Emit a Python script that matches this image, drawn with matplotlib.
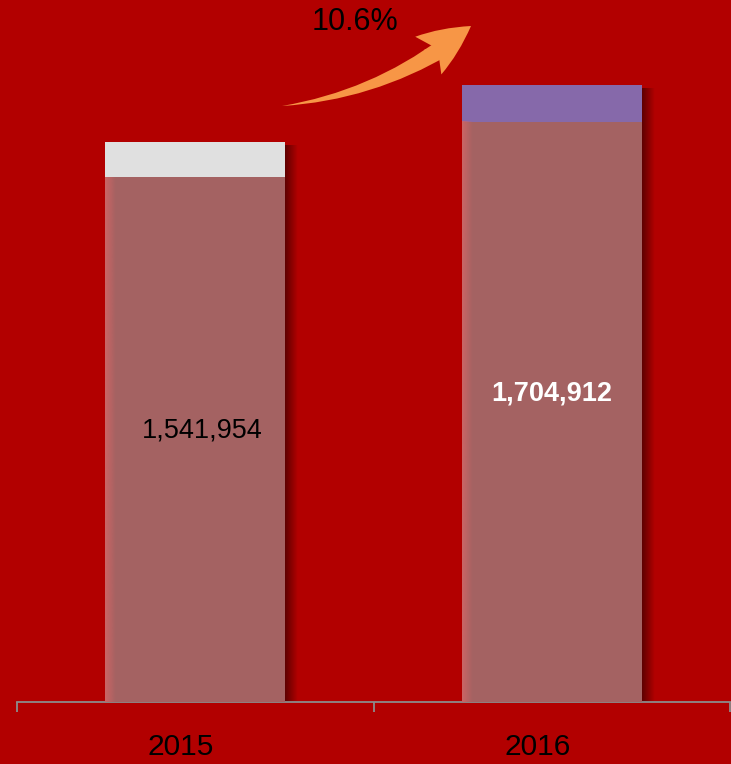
import numpy as np
import matplotlib
matplotlib.use('Agg')
import matplotlib.pyplot as plt

plt.rcParams['font.family'] = ['Liberation Sans', 'DejaVu Sans']

years = ['2015', '2016']
totals = [1541954, 1704912]
caps = [103000, 107000]
cap_colors = ['#E0E0E0', '#8669AA']
growth = '10.6%'

bg = '#B20000'
bar_color = '#A46262'
arrow_color = '#F79646'

fig = plt.figure(figsize=(7.31, 7.64), dpi=100, facecolor=bg)
ax = fig.add_axes([17 / 731, 62 / 764, 713 / 731, 702 / 764], facecolor=bg)

x = np.arange(len(years))
width = 0.505
main_bars = ax.bar(x, totals, width=width, color=bar_color, zorder=3)
ax.bar(x, caps, width=width, bottom=totals, color=cap_colors, zorder=3)

ymax = totals[0] * 702 / 525
ax.set_xlim(-0.5, 1.5)
ax.set_ylim(0, ymax)

# soft highlight on the left edge and a shadow on the right of each bar
for b, c in zip(main_bars, caps):
    bx, bw, bh = b.get_x(), b.get_width(), b.get_height()
    hl = np.zeros((1, 32, 4))
    hl[..., :3] = matplotlib.colors.to_rgb('#D06666')
    hl[..., 3] = np.linspace(0.9, 0.0, 32)
    ax.imshow(hl, extent=[bx, bx + 0.03, 0, bh], aspect='auto', zorder=4)
    sh = np.zeros((1, 32, 4))
    sh[..., :3] = matplotlib.colors.to_rgb('#3A0000')
    sh[..., 3] = np.linspace(0.7, 0.0, 32)
    ax.imshow(sh, extent=[bx + bw, bx + bw + 0.035, 0, bh + c * 0.9],
              aspect='auto', zorder=2)

ax.text(0.02, totals[0] * 0.518, '{:,}'.format(totals[0]), ha='center', va='center',
        fontsize=19.5, color='black', zorder=5)
ax.text(1.0, totals[1] * 0.532, '{:,}'.format(totals[1]), ha='center', va='center',
        fontsize=19.5, color='white', fontweight='bold', zorder=5)

# axis styling
for s in ['top', 'right', 'left']:
    ax.spines[s].set_visible(False)
ax.spines['bottom'].set_color('#8C8C8C')
ax.spines['bottom'].set_linewidth(1.3)
ax.set_yticks([])
ax.set_xticks([-0.5, 0.5, 1.5], minor=True)
ax.set_xticks(x - 0.04)
ax.set_xticklabels(years, fontsize=21.5, color='black')
ax.tick_params(axis='x', which='major', length=0, pad=22)
ax.tick_params(axis='x', which='minor', length=7, width=1.3, color='#8C8C8C')
for t in ax.xaxis.get_minor_ticks():
    t.tick1line.set_clip_on(False)

# growth arrow: tapered body (wedge drawn from the head back to the tail) plus a head
def fpos(px, py):
    return (px / 731, 1 - py / 764)

ax.annotate('', xy=fpos(282, 106), xycoords='figure fraction',
            xytext=fpos(446, 46), textcoords='figure fraction',
            arrowprops=dict(arrowstyle='wedge,tail_width=0.6,shrink_factor=0.5',
                            connectionstyle='arc3,rad=-0.12', color=arrow_color, lw=0,
                            mutation_scale=22, shrinkA=0, shrinkB=0),
            annotation_clip=False, zorder=6)
ax.annotate('', xy=fpos(471, 26), xycoords='figure fraction',
            xytext=fpos(432, 53), textcoords='figure fraction',
            arrowprops=dict(arrowstyle='fancy,head_length=1.7,head_width=1.5,tail_width=0.5',
                            connectionstyle='arc3,rad=0', color=arrow_color, lw=0,
                            mutation_scale=22, shrinkA=0, shrinkB=0),
            annotation_clip=False, zorder=6)
fig.text(355 / 731, 1 - 22 / 764, growth, ha='center', va='center', fontsize=22, color='black')

fig.savefig('out.png', dpi=100, facecolor=bg)
